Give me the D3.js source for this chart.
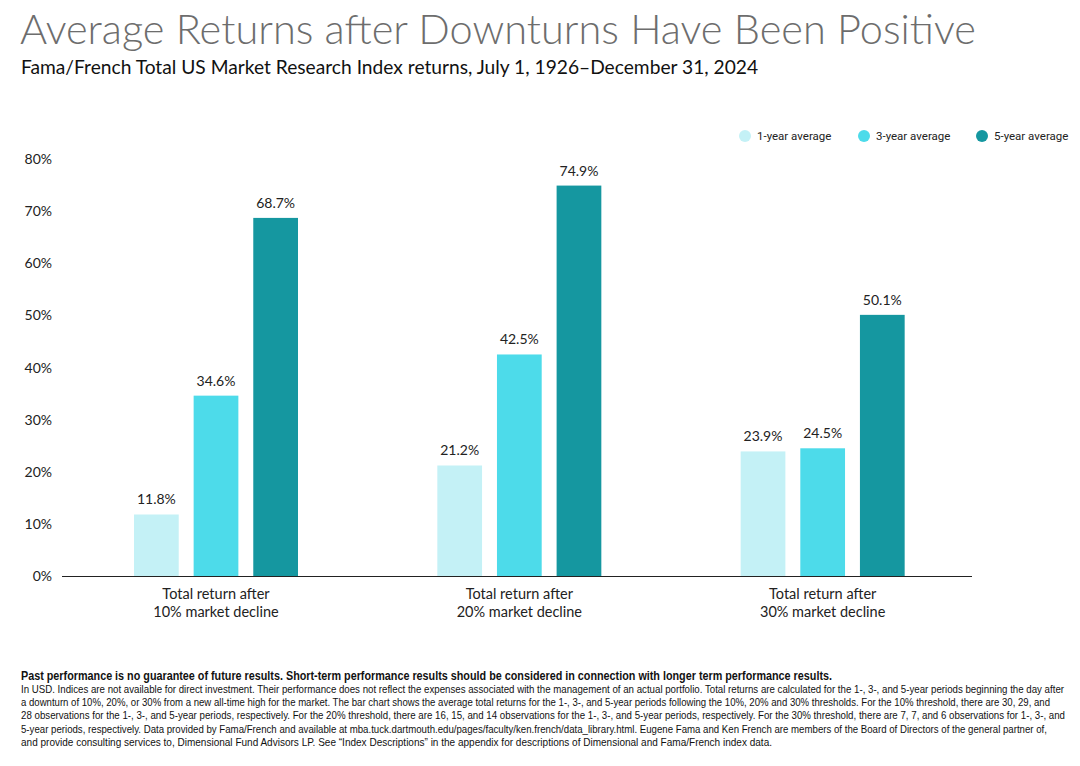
<!DOCTYPE html>
<html><head><meta charset="utf-8">
<script src="https://cdn.jsdelivr.net/npm/d3@7"></script>
<style>body{margin:0;background:#fff}svg{display:block}</style>
</head><body><div id="chart"></div>
<script>
// Data
const categories = ['Total return after|10% market decline', 'Total return after|20% market decline', 'Total return after|30% market decline'];
const series = ['1-year average', '3-year average', '5-year average'];
const oneYear = [11.8, 21.2, 23.9];
const threeYear = [34.6, 42.5, 24.5];
const fiveYear = [68.7, 74.9, 50.1];
const yTicks = [0, 10, 20, 30, 40, 50, 60, 70, 80];
const colors = ['#c4f1f6', '#4ddbea', '#1597a0'];

const notesBold = 'Past performance is no guarantee of future results. Short-term performance results should be considered in connection with longer term performance results.';
const notes = [
  'In USD. Indices are not available for direct investment. Their performance does not reflect the expenses associated with the management of an actual portfolio. Total returns are calculated for the 1-, 3-, and 5-year periods beginning the day after',
  'a downturn of 10%, 20%, or 30% from a new all-time high for the market. The bar chart shows the average total returns for the 1-, 3-, and 5-year periods following the 10%, 20% and 30% thresholds. For the 10% threshold, there are 30, 29, and',
  '28 observations for the 1-, 3-, and 5-year periods, respectively. For the 20% threshold, there are 16, 15, and 14 observations for the 1-, 3-, and 5-year periods, respectively. For the 30% threshold, there are 7, 7, and 6 observations for 1-, 3-, and',
  '5-year periods, respectively. Data provided by Fama/French and available at mba.tuck.dartmouth.edu/pages/faculty/ken.french/data_library.html. Eugene Fama and Ken French are members of the Board of Directors of the general partner of,',
  'and provide consulting services to, Dimensional Fund Advisors LP. See \u201cIndex Descriptions\u201d in the appendix for descriptions of Dimensional and Fama/French index data.'
];
const noteWidths = [1043, 1029, 1044, 1026, 751];

const width = 1080, height = 766;
const svg = d3.select('#chart').append('svg').attr('width', width).attr('height', height)
  .style('font-family', 'Lato, "Open Sans", sans-serif');

// Titles
svg.append('text').attr('x', 20).attr('y', 44).attr('font-size', 41.5).attr('font-weight', 300)
  .attr('fill', '#6d6d6d').text('Average Returns after Downturns Have Been Positive');
svg.append('text').attr('x', 21).attr('y', 74).attr('font-size', 19.2).attr('fill', '#111')
  .text('Fama/French Total US Market Research Index returns, July 1, 1926\u2013December 31, 2024');

// Scales
const x0 = d3.scaleBand().domain(categories).range([62, 972]);
const x1 = d3.scaleBand().domain(series).range([72, 236]).paddingInner(0.25);
const y = d3.scaleLinear().domain([0, 80]).range([576, 159]);

// Y axis labels
svg.selectAll('.ytick').data(yTicks).enter().append('text')
  .attr('x', 52).attr('y', d => y(d) + 5).attr('text-anchor', 'end')
  .attr('font-size', 14).attr('fill', '#222').text(d => d + '%');

// Bars
const rows = categories.map((c, i) => ({ c, vals: [oneYear[i], threeYear[i], fiveYear[i]] }));
const g = svg.selectAll('.grp').data(rows).enter().append('g')
  .attr('transform', d => `translate(${x0(d.c)},0)`);
g.selectAll('rect').data(d => d.vals.map((v, k) => ({ v, k }))).enter().append('rect')
  .attr('x', d => x1(series[d.k])).attr('width', x1.bandwidth())
  .attr('y', d => y(d.v)).attr('height', d => y(0) - y(d.v)).attr('fill', d => colors[d.k]);
g.selectAll('.lbl').data(d => d.vals.map((v, k) => ({ v, k }))).enter().append('text')
  .attr('x', d => x1(series[d.k]) + x1.bandwidth() / 2).attr('y', d => y(d.v) - 10)
  .attr('text-anchor', 'middle').attr('font-size', 14).attr('fill', '#222')
  .text(d => d.v.toFixed(1) + '%');

// Baseline
svg.append('line').attr('x1', 62).attr('x2', 972).attr('y1', y(0) + 0.5).attr('y2', y(0) + 0.5)
  .attr('stroke', '#222').attr('stroke-width', 1.2);

// Category labels
svg.selectAll('.cat').data(categories).enter().append('text')
  .attr('text-anchor', 'middle').attr('font-size', 14.5).attr('fill', '#222')
  .each(function (d) {
    d.split('|').forEach((t, i) => d3.select(this).append('tspan')
      .attr('x', x0(d) + 154).attr('y', 599 + i * 18).text(t));
  });

// Legend
const legX = [745, 864, 982];
series.forEach((s, i) => {
  svg.append('circle').attr('cx', legX[i]).attr('cy', 136).attr('r', 6).attr('fill', colors[i]);
  svg.append('text').attr('x', legX[i] + 12).attr('y', 140).attr('font-size', 11.5)
    .attr('fill', '#222').style('font-family', 'Roboto, sans-serif').text(s);
});

// Footnotes
svg.append('text').attr('x', 21).attr('y', 680).attr('font-size', 12).attr('font-weight', 700)
  .style('font-family', '"Liberation Sans Narrow", "Liberation Sans", sans-serif')
  .attr('textLength', 811).attr('lengthAdjust', 'spacingAndGlyphs').attr('fill', '#111').text(notesBold);
notes.forEach((t, i) => {
  svg.append('text').attr('x', 21).attr('y', 693 + i * 13.2).attr('font-size', 10.5)
    .style('font-family', '"Liberation Sans Narrow", "Liberation Sans", sans-serif')
    .attr('textLength', noteWidths[i]).attr('lengthAdjust', 'spacingAndGlyphs').attr('fill', '#111').text(t);
});
</script></body></html>
